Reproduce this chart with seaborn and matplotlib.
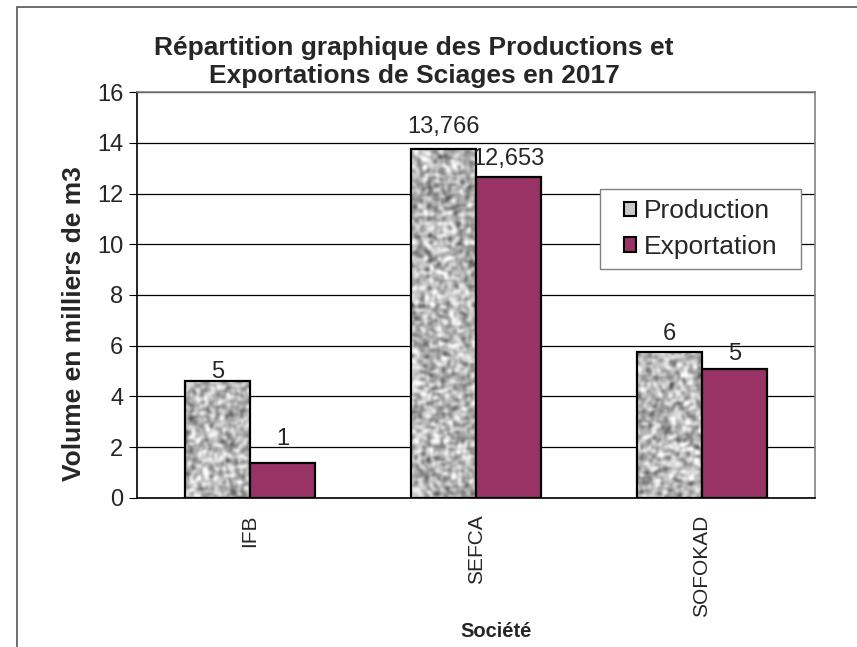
import numpy as np
import pandas as pd
import matplotlib
matplotlib.use("Agg")
import matplotlib.pyplot as plt
import seaborn as sns
from matplotlib.patches import Patch, Rectangle

# Data
societes = ["IFB", "SEFCA", "SOFOKAD"]
production = [4.6, 13.766, 5.75]
exportation = [1.37, 12.653, 5.07]
prod_labels = ["5", "13,766", "6"]
exp_labels = ["1", "12,653", "5"]

df = pd.DataFrame({
    "Société": societes * 2,
    "Volume": production + exportation,
    "Type": ["Production"] * 3 + ["Exportation"] * 3,
})

sns.set_style("white")
plt.rcParams["font.family"] = ["Liberation Sans", "DejaVu Sans"]

fig = plt.figure(figsize=(8.57, 6.47), dpi=100)
ax = fig.add_axes([0.160, 0.2303, 0.791, 0.6275])

sns.barplot(data=df, x="Société", y="Volume", hue="Type",
            palette={"Production": "#c8c8c8", "Exportation": "#993366"},
            width=0.575, gap=0, edgecolor="black", linewidth=1.6,
            saturation=1, legend=False, ax=ax, zorder=3)

# granite-like texture on production bars
rng = np.random.default_rng(7)
for patch in ax.containers[0].patches:
    x0, y0 = patch.get_x(), patch.get_y()
    w, h = patch.get_width(), patch.get_height()
    rows, cols = max(int(h * 16), 4), 40
    tex = rng.random((rows, cols))
    for _ in range(2):
        tex = (tex + np.roll(tex, 1, 0) + np.roll(tex, -1, 0)
               + np.roll(tex, 1, 1) + np.roll(tex, -1, 1)) / 5
    im = ax.imshow(tex, extent=[x0, x0 + w, y0, y0 + h], cmap="gray",
                   vmin=0.0, vmax=0.7, aspect="auto", zorder=2.9,
                   interpolation="bicubic")
    im.set_clip_path(patch)
    patch.set_facecolor("none")

# value labels
prod_pads = [2, 11, 9]
exp_pads = [13, 8.5, 6.5]
for cont, labels, pads in [(ax.containers[0], prod_labels, prod_pads),
                           (ax.containers[1], exp_labels, exp_pads)]:
    for patch, lab, pad in zip(cont.patches, labels, pads):
        ax.annotate(lab, (patch.get_x() + patch.get_width() / 2, patch.get_height()),
                    xytext=(0, pad), textcoords="offset points",
                    ha="center", va="baseline", fontsize=17)

ax.set_xlim(-0.5, 2.5)
ax.set_ylim(0, 16)
ax.set_yticks(range(0, 17, 2))
ax.yaxis.grid(True, color="black", linewidth=0.9)
ax.set_axisbelow(True)

# x ticks between categories like Excel
ax.set_xticks([0, 1, 2])
ax.set_xticklabels(societes, rotation=90, fontsize=15)
ax.set_xticks([0.5, 1.5, 2.5], minor=True)
ax.tick_params(axis="x", which="major", length=0, pad=12)
ax.tick_params(axis="x", which="minor", length=6, direction="out", color="black")
ax.tick_params(axis="y", length=6, direction="out", color="black", labelsize=17,
               left=True, pad=4)

for side in ["left", "bottom"]:
    ax.spines[side].set_color("black")
    ax.spines[side].set_linewidth(1.2)
for side in ["top", "right"]:
    ax.spines[side].set_color("#808080")
    ax.spines[side].set_linewidth(1.2)

ax.set_ylabel("Volume en milliers de m3", fontsize=19, fontweight="bold")
ax.yaxis.set_label_coords(-0.075, 0.43)
ax.set_xlabel("Société", fontsize=14.5, fontweight="bold")
ax.xaxis.set_label_coords(0.53, -0.305)

fig.text(0.483, 0.904, "Répartition graphique des Productions et\nExportations de Sciages en 2017",
         ha="center", va="center", fontsize=19, fontweight="bold", linespacing=1.2)

# legend box drawn separately to get Excel-like padding
ax.add_patch(Rectangle((0.683, 0.564), 0.296, 0.197, transform=ax.transAxes,
                       facecolor="white", edgecolor="#808080", linewidth=1.0, zorder=4))
handles = [Patch(facecolor="#c8c8c8", edgecolor="black", linewidth=1.5, label="Production"),
           Patch(facecolor="#993366", edgecolor="black", linewidth=1.5, label="Exportation")]
leg = ax.legend(handles=handles, loc="center", bbox_to_anchor=(0.831, 0.6625),
                fontsize=19, handlelength=0.45, handleheight=0.45, handletextpad=0.3,
                borderpad=0, labelspacing=0.45, frameon=False, borderaxespad=0)
leg.set_zorder(5)

# outer chart border (cut by the image edge)
fig.patches.append(Rectangle((17 / 857, -0.1), 1.2, 1 - 7 / 647 + 0.1,
                             transform=fig.transFigure, fill=False,
                             edgecolor="#555555", linewidth=1.2))

plt.savefig("out.png", dpi=100)
